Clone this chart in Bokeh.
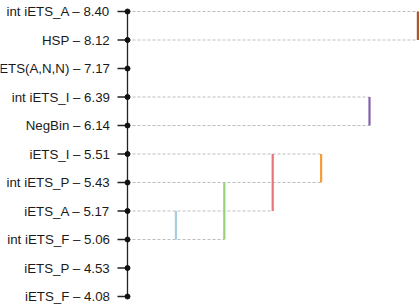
from bokeh.plotting import figure
from bokeh.embed import file_html
from bokeh.resources import INLINE
from bokeh.core.properties import value
from bokeh.models import ColumnDataSource

# data (bottom to top)
names = ["iETS_F", "iETS_P", "int iETS_F", "iETS_A", "int iETS_P", "iETS_I",
         "NegBin", "int iETS_I", "iETS(A,N,N)", "HSP", "int iETS_A"]
ranks = [4.08, 4.53, 5.06, 5.17, 5.43, 5.51, 6.14, 6.39, 7.17, 8.12, 8.40]
# groups of non-significantly different methods (row index start, end)
group_start = [2, 2, 3, 4, 6, 9]
group_end = [3, 4, 5, 5, 7, 10]
group_colors = ["#a6cee3", "#99d07a", "#e8737b", "#f49d3a", "#8263a8", "#a9582f"]

n = len(names)
rows = list(range(n))
gx = list(range(1, len(group_start) + 1))

# dashed extension per row: to farthest group containing that row
dash_rows, dash_end = [], []
for r in rows:
    xs = [gx[g] for g in range(len(group_start)) if group_start[g] <= r <= group_end[g]]
    if xs:
        dash_rows.append(r)
        dash_end.append(max(xs))

W, H = 420, 306
x0_px, dx_px = 127.0, 48.4
y0_px, dy_px = 296.0, 28.5

p = figure(width=W, height=H, output_backend="svg", toolbar_location=None,
           x_range=(-x0_px / dx_px, (W - x0_px) / dx_px),
           y_range=(-(H - y0_px) / dy_px, y0_px / dy_px),
           min_border=0, x_axis_location=None, y_axis_location=None)
p.outline_line_color = None
p.xgrid.visible = False
p.ygrid.visible = False
p.background_fill_color = "white"
p.border_fill_color = "white"

# dashed guide lines
p.segment(x0=[0] * len(dash_rows), y0=dash_rows, x1=dash_end, y1=dash_rows,
          line_color="#bdbdbd", line_width=1, line_dash="3 2")

# vertical group lines
p.segment(x0=gx, y0=group_start, x1=gx, y1=group_end,
          line_color=group_colors, line_width=2.2)

# axis line and ticks
p.segment(x0=[0], y0=[0], x1=[0], y1=[n - 1], line_color="#222222", line_width=1.3)
tick_len = 10.0 / dx_px
p.segment(x0=[-tick_len] * n, y0=rows, x1=[0] * n, y1=rows,
          line_color="#222222", line_width=1.3)

# points
p.scatter(x=[0] * n, y=rows, size=5, color="#111111")

# labels
labels = [f"{nm} \u2013 {rk:.2f}" for nm, rk in zip(names, ranks)]
src = ColumnDataSource(dict(x=[-(x0_px - 109.5) / dx_px] * n, y=rows, t=labels))
p.text(x="x", y="y", text="t", source=src, text_align="right",
       text_baseline="middle", text_font=value("Liberation Sans"),
       text_font_size="13.3px", text_color="#1a1a1a")

open("out.html", "w").write(file_html(p, INLINE))
